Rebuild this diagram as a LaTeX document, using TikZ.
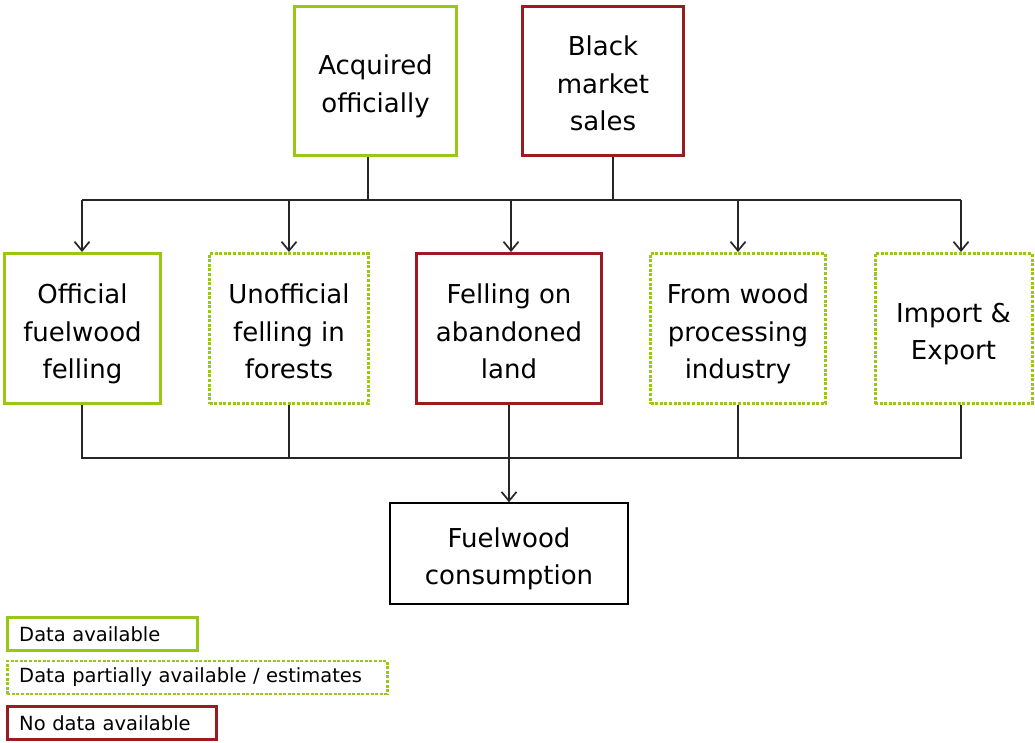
\documentclass[tikz,border=0pt]{standalone}
\usepackage{fontspec}
\setmainfont{DejaVu Sans}
\usetikzlibrary{arrows.meta,calc}
\definecolor{okgreen}{RGB}{153,200,20}
\definecolor{nored}{RGB}{155,28,32}
\newcommand{\btext}[1]{\raisebox{-5pt}[\height][\depth]{\begin{tabular}{@{}c@{}}#1\end{tabular}}}
\begin{document}
\begin{tikzpicture}[x=1pt,y=-1pt,
  box/.style={draw, line width=3pt, inner sep=0pt, font=\fontsize{26}{37.5}\selectfont},
  okbox/.style={box, draw=okgreen},
  partbox/.style={box, draw=okgreen, dash pattern=on 3pt off 1.6pt},
  nobox/.style={box, draw=nored},
  plainbox/.style={box, draw=black, line width=1.6pt},
  legend/.style={line width=2.5pt, font=\fontsize{19.5}{22}\selectfont, inner xsep=12pt, inner ysep=0pt, minimum height=33pt, anchor=west, align=left},
  conn/.style={line width=1.7pt, draw=black!85},
  arr/.style={conn, -{Straight Barb[length=9pt,width=15pt]}},
]
\useasboundingbox (0,0) rectangle (1035,743);
\fill[white] (0,0) rectangle (1035,743);

% top sources
\node[okbox, minimum width=162pt, minimum height=149pt] (acq) at (375.5,81) {\btext{Acquired\\officially}};
\node[nobox, minimum width=161pt, minimum height=149pt] (blk) at (603,81) {\btext{Black\\market\\sales}};

% middle row
\node[okbox, minimum width=156pt, minimum height=150pt] (off) at (82.5,328.5) {\btext{Official\\fuelwood\\felling}};
\node[partbox, minimum width=159pt, minimum height=150pt] (unoff) at (289,328.5) {\btext{Unofficial\\felling in\\forests}};
\node[nobox, minimum width=185pt, minimum height=150pt] (aband) at (509,328.5) {\btext{Felling on\\abandoned\\land}};
\node[partbox, minimum width=175pt, minimum height=150pt] (wood) at (738,328.5) {\btext{From wood\\processing\\industry}};
\node[partbox, minimum width=157pt, minimum height=150pt] (imp) at (953.5,328.5) {\btext{Import \&\\Export}};

% target
\node[plainbox, minimum width=238pt, minimum height=101pt] (cons) at (509,553.5) {\btext{Fuelwood\\consumption}};

% connector points
\coordinate (tb) at (0,200);
\coordinate (bb) at (0,458);
\coordinate (acqs) at ($(acq.south)+(-7.5,0)$);
\coordinate (blks) at ($(blk.south)+(10,0)$);
\coordinate (offn) at ($(off.north)+(-0.5,0)$);
\coordinate (offs) at ($(off.south)+(-0.5,0)$);
\coordinate (abn) at ($(aband.north)+(2,0)$);
\coordinate (impn) at ($(imp.north)+(7.5,0)$);
\coordinate (imps) at ($(imp.south)+(7.5,0)$);

% top connectors
\draw[conn] (acqs) -- (acqs |- tb);
\draw[conn] (blks) -- (blks |- tb);
\draw[conn] (offn |- tb) -- (impn |- tb);
\draw[arr] (offn |- tb) -- (offn);
\draw[arr] (unoff.north |- tb) -- (unoff.north);
\draw[arr] (abn |- tb) -- (abn);
\draw[arr] (wood.north |- tb) -- (wood.north);
\draw[arr] (impn |- tb) -- (impn);

% bottom connectors
\draw[conn] (offs) -- (offs |- bb) -- (imps |- bb) -- (imps);
\draw[conn] (unoff.south) -- (unoff.south |- bb);
\draw[conn] (wood.south) -- (wood.south |- bb);
\draw[arr] (aband.south) -- (cons.north);

% legend
\node[legend, draw=okgreen, text width=166pt] (l1) at (6,634) {Data available};
\node[legend, draw=okgreen, dash pattern=on 3pt off 1.6pt, text width=356pt] (l2) at (6,677.5) {Data partially available / estimates};
\node[legend, draw=nored, text width=185pt] (l3) at (6,723) {No data available};
\end{tikzpicture}
\end{document}
